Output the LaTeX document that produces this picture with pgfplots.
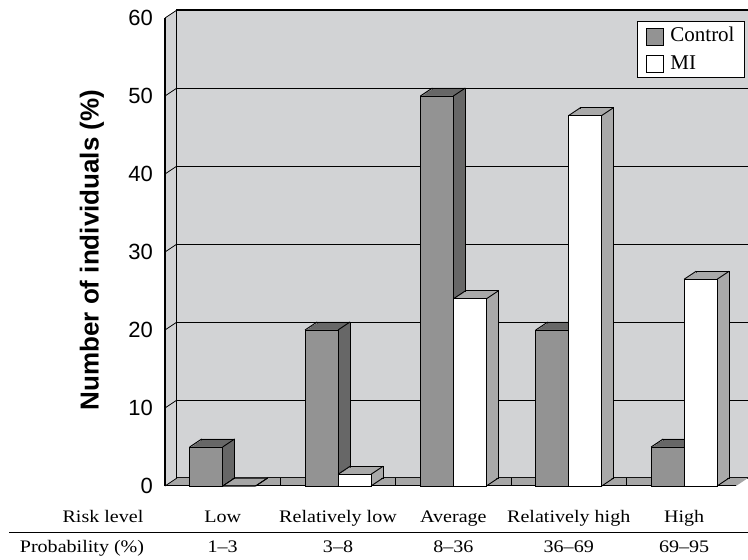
\documentclass[border=0pt]{standalone}
\usepackage{pgfplots}
\pgfplotsset{compat=1.18}
\usepackage{fontspec}
\setmainfont{Liberation Serif}
\setsansfont{Liberation Sans}
\newfontfamily\catfont[FakeStretch=1.14]{Liberation Serif}
\definecolor{wallgray}{HTML}{D2D3D5}
\definecolor{ctrlfront}{HTML}{939393}
\definecolor{ctrlside}{HTML}{676767}
\definecolor{miside}{HTML}{A9A9A9}
\definecolor{floorgray}{HTML}{A6A6A6}
\pgfplotstableread{
x control mi base
0 5 0 0
1 20 1.5 0
2 50 24 0
3 20 47.5 0
4 5 26.5 0
}\riskdata
\begin{document}
\begin{tikzpicture}[x=1pt,y=1pt]
\useasboundingbox (0,0) rectangle (748,560);
\begin{axis}[
  at={(177pt,82pt)}, anchor=south west,
  scale only axis, width=571pt, height=468pt,
  xmin=-0.5, xmax=4.45, ymin=0, ymax=60,
  clip=false,
  axis background/.style={fill=wallgray},
  axis line style={black, line width=1pt},
  ymajorgrids, grid style={black, line width=0.9pt},
  ytick={0,10,...,60},
  major tick length=0pt,
  /pgf/number format/assume math mode=true,
  yticklabel style={font=\sffamily\fontsize{22}{26}\selectfont, anchor=east, inner sep=0pt, xshift=-24pt, yshift=-8pt},
  ylabel={\bfseries Number of individuals (\%)},
  ylabel style={font=\sffamily\fontsize{26}{30}\selectfont, at={(axis description cs:-0.1489,0.487)}, anchor=center},
  xtick={0,1,2,3,4},
  xticklabels={Low,Relatively low,Average,Relatively high,High},
  xticklabel style={font=\catfont\fontsize{17.6}{20}\selectfont, anchor=base, inner sep=0pt, xshift=-12pt, yshift=-45pt},
  extra x ticks={0,1,2,3,4},
  extra x tick labels={1–3,3–8,8–36,36–69,69–95},
  extra x tick style={xticklabel style={yshift=-30pt}},
  legend style={at={(axis description cs:0.9947,0.9765)}, anchor=north east, draw=black, fill=white, line width=0.8pt,
    font=\fontsize{21}{24}\selectfont, inner xsep=8pt, inner ysep=4pt, row sep=8pt,
    cells={anchor=west}},
  legend image code/.code={\draw[#1, draw=black, line width=0.8pt] (0pt,-1.5pt) rectangle (17pt,15.5pt); \path (22pt,0pt);},
]
% floor
\fill[floorgray] (axis cs:-0.5,0) -- (axis cs:4.45,0) -- ([shift={(-12pt,-8pt)}]axis cs:4.45,0) -- ([shift={(-12pt,-8pt)}]axis cs:-0.5,0) -- cycle;
\draw[line width=1pt] ([shift={(-12pt,-8pt)}]axis cs:-0.5,0) -- ([shift={(-12pt,-8pt)}]axis cs:4.45,0);
\pgfplotsinvokeforeach{0.5,1.5,2.5,3.5}{\draw[line width=0.8pt] ([xshift=-12pt]axis cs:#1,0) -- ++(0pt,-8pt);}
% left wall
\fill[wallgray] (axis cs:-0.5,0) -- (axis cs:-0.5,60) -- ++(-12pt,-8pt) -- ([shift={(-12pt,-8pt)}]axis cs:-0.5,0) -- cycle;
\pgfplotsinvokeforeach{0,10,...,60}{\draw[line width=0.8pt] (axis cs:-0.5,#1) -- ++(-12pt,-8pt);}
\draw[line width=1.2pt] ([shift={(-12pt,-8pt)}]axis cs:-0.5,0) -- ([shift={(-12pt,-8pt)}]axis cs:-0.5,60);
\draw[line width=1pt] (axis cs:-0.5,0) -- (axis cs:-0.5,60);
% ---- Control bars (3D) ----
\addplot[ybar, bar width=33pt, bar shift=-16.5pt, fill=ctrlside, draw=black, line width=0.9pt, forget plot] table[x=x,y=control]{\riskdata};
\pgfplotsinvokeforeach{1,...,5}{
  \addplot[ybar, bar width=33pt, bar shift=-16.5pt, fill=ctrlside, draw=none, forget plot, xshift={2pt*#1-12pt}, yshift={1.3333pt*#1-8pt}] table[x=x,y=control]{\riskdata};
}
\addplot[ybar, bar width=33pt, bar shift=-16.5pt, fill=ctrlfront, draw=black, line width=0.9pt, xshift=-12pt, yshift=-8pt] table[x=x,y=control]{\riskdata};
\addlegendentry{Control}
\addplot[forget plot, quiver={u=0.10403, v=1.02564}, draw=black, line width=0.9pt, xshift=-45pt, yshift=-8pt] table[x=x,y=control]{\riskdata};
\addplot[forget plot, quiver={u=0.10403, v=1.02564}, draw=black, line width=0.9pt, xshift=-12pt, yshift=-8pt] table[x=x,y=control]{\riskdata};
\addplot[forget plot, quiver={u=0.10403, v=1.02564}, draw=black, line width=0.9pt, xshift=-12pt, yshift=-8pt] table[x=x,y=base]{\riskdata};
% ---- MI bars (3D) ----
\addplot[ybar, bar width=33pt, bar shift=16.5pt, fill=miside, draw=black, line width=0.9pt, forget plot] table[x=x,y=mi]{\riskdata};
\pgfplotsinvokeforeach{1,...,5}{
  \addplot[ybar, bar width=33pt, bar shift=16.5pt, fill=miside, draw=none, forget plot, xshift={2pt*#1-12pt}, yshift={1.3333pt*#1-8pt}] table[x=x,y=mi]{\riskdata};
}
\addplot[ybar, bar width=33pt, bar shift=16.5pt, fill=white, draw=black, line width=0.9pt, xshift=-12pt, yshift=-8pt] table[x=x,y=mi]{\riskdata};
\addlegendentry{MI}
\addplot[forget plot, quiver={u=0.10403, v=1.02564}, draw=black, line width=0.9pt, xshift=-12pt, yshift=-8pt] table[x=x,y=mi]{\riskdata};
\addplot[forget plot, quiver={u=0.10403, v=1.02564}, draw=black, line width=0.9pt, xshift=21pt, yshift=-8pt] table[x=x,y=mi]{\riskdata};
\addplot[forget plot, quiver={u=0.10403, v=1.02564}, draw=black, line width=0.9pt, xshift=21pt, yshift=-8pt] table[x=x,y=base]{\riskdata};
\end{axis}
\draw[line width=0.9pt] (9,28) -- (748,28);
\node[font=\catfont\fontsize{17.6}{20}\selectfont, anchor=base, inner sep=0pt] at (103,37) {Risk level};
\node[font=\catfont\fontsize{17.6}{20}\selectfont, anchor=base, inner sep=0pt] at (82,7) {Probability (\%)};
\end{tikzpicture}
\end{document}
